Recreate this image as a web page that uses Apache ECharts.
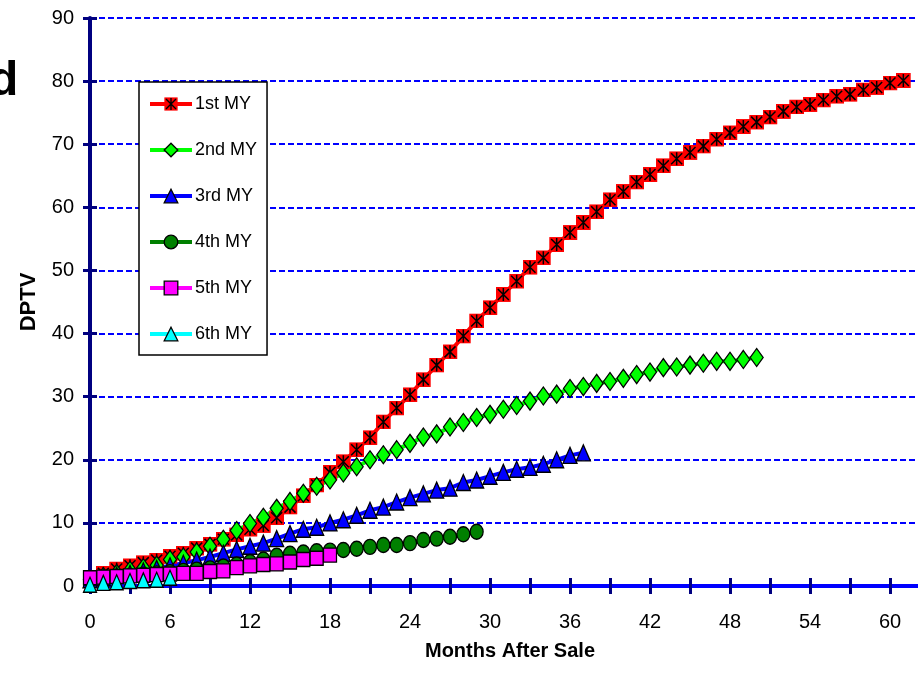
<!DOCTYPE html>
<html>
<head>
<meta charset="utf-8">
<script src="https://cdn.jsdelivr.net/npm/echarts@6/dist/echarts.min.js"></script>
<style>
html,body{margin:0;padding:0;background:#fff;}
#chart{width:918px;height:689px;}
</style>
</head>
<body>
<div id="chart"></div>
<script>
// ---- data (months after sale start at 0) ----
var seriesNames = ['1st MY', '2nd MY', '3rd MY', '4th MY', '5th MY', '6th MY'];
var xTickLabels = [0, 6, 12, 18, 24, 30, 36, 42, 48, 54, 60];
var yTickLabels = [0, 10, 20, 30, 40, 50, 60, 70, 80, 90];

var my1 = [1.3, 2.0, 2.7, 3.2, 3.7, 4.1, 4.7, 5.2, 6.0, 6.6, 7.4, 8.1, 9.0, 9.6, 10.8, 12.5, 14.3, 16.0, 18.0, 19.7,
           21.6, 23.5, 26.0, 28.2, 30.3, 32.7, 35.0, 37.1, 39.6, 42.0, 44.1, 46.2, 48.3, 50.5, 52.0, 54.1, 56.0, 57.6,
           59.3, 61.2, 62.5, 64.0, 65.2, 66.6, 67.7, 68.7, 69.7, 70.8, 71.8, 72.8, 73.5, 74.3, 75.2, 75.9, 76.3, 77.0,
           77.6, 77.9, 78.6, 79.0, 79.7, 80.1];
var my2 = [1.0, 1.5, 2.0, 2.5, 2.9, 3.3, 4.2, 4.6, 5.4, 6.3, 7.4, 8.8, 9.9, 10.9, 12.3, 13.4, 14.7, 15.8, 16.8, 17.9,
           18.9, 20.0, 20.8, 21.6, 22.6, 23.6, 24.1, 25.2, 25.9, 26.7, 27.2, 28.0, 28.6, 29.3, 30.1, 30.4, 31.3, 31.6,
           32.1, 32.4, 32.9, 33.5, 33.9, 34.6, 34.7, 35.0, 35.3, 35.6, 35.6, 35.9, 36.2];
var my3 = [1.0, 1.3, 1.7, 2.0, 2.4, 2.8, 3.2, 3.6, 4.1, 4.6, 5.2, 5.8, 6.3, 6.8, 7.5, 8.3, 9.0, 9.3, 10.0, 10.5,
           11.2, 12.0, 12.5, 13.3, 14.0, 14.6, 15.2, 15.5, 16.4, 16.8, 17.4, 18.0, 18.5, 18.8, 19.3, 20.0, 20.7, 21.1];
var my4 = [1.0, 1.2, 1.4, 1.6, 1.8, 2.0, 2.2, 2.4, 2.6, 2.8, 3.1, 3.4, 3.8, 4.2, 4.8, 5.1, 5.3, 5.5, 5.6, 5.7,
           5.9, 6.2, 6.5, 6.5, 6.8, 7.3, 7.5, 7.8, 8.2, 8.6];
var my5 = [1.3, 1.4, 1.5, 1.6, 1.7, 1.8, 1.9, 2.0, 2.0, 2.3, 2.4, 2.9, 3.2, 3.4, 3.5, 3.8, 4.2, 4.4, 4.9];
var my6 = [0.2, 0.5, 0.6, 0.8, 0.9, 1.0, 1.3];

var allValues = [my1, my2, my3, my4, my5, my6];

function pairs(arr) { return arr.map(function (v, i) { return [i, v]; }); }

var NAVY = '#000080';
var SANS = "'Liberation Sans', Arial, sans-serif";

var redSvg = "<svg xmlns='http://www.w3.org/2000/svg' width='30' height='30' viewBox='0 0 15 15'>" +
  "<rect x='0' y='0' width='15' height='15' fill='#FF0000'/>" +
  "<path d='M2 2L13 13M13 2L2 13M7.5 1V14' stroke='#000' stroke-width='1.5' fill='none'/></svg>";
var redSymbol = 'image://data:image/svg+xml;charset=utf-8,' + encodeURIComponent(redSvg);

var styles = [
  { color: '#FF0000', symbol: redSymbol, size: 15 },
  { color: '#00FF00', symbol: 'diamond', size: [13, 18] },
  { color: '#0000FF', symbol: 'triangle', size: [14, 16] },
  { color: '#008000', symbol: 'circle', size: [13, 15] },
  { color: '#FF00FF', symbol: 'rect', size: [13, 14] },
  { color: '#00FFFF', symbol: 'triangle', size: [13, 15] }
];

var series = seriesNames.map(function (name, k) {
  var s = styles[k];
  return {
    name: name,
    type: 'line',
    xAxisIndex: 0,
    yAxisIndex: 0,
    data: pairs(allValues[k]),
    symbol: s.symbol,
    symbolSize: s.size,
    showAllSymbol: true,
    animation: false,
    lineStyle: { color: s.color, width: 4 },
    itemStyle: { color: s.color, borderColor: '#000', borderWidth: k === 0 ? 0 : 1.3 },
    emphasis: { disabled: true }
  };
});

var chart = echarts.init(document.getElementById('chart'), null, { renderer: 'canvas' });
chart.setOption({
  animation: false,
  backgroundColor: '#fff',
  grid: { left: 90, top: 18, bottom: 103, right: -12, containLabel: false, outerBoundsMode: 'none' },
  graphic: [{
    type: 'text', x: -11, y: 58,
    style: { text: 'd', font: 'bold 48px ' + SANS, fill: '#000', verticalAlign: 'top' }
  }],
  legend: {
    orient: 'vertical',
    left: 139, top: 82,
    data: seriesNames,
    padding: [13, 10, 12, 9],
    itemGap: 28,
    itemWidth: 42,
    itemHeight: 17,
    backgroundColor: '#fff',
    borderColor: '#000',
    borderWidth: 1.5,
    borderRadius: 0,
    lineStyle: { width: 4 },
    itemStyle: { borderColor: '#000', borderWidth: 1.3 },
    textStyle: { fontFamily: SANS, fontSize: 18, color: '#000', padding: [0, 0, 0, -2] }
  },
  xAxis: [{
    type: 'value', min: 0, max: 63, interval: 3,
    name: 'Months After Sale', nameLocation: 'middle', nameGap: 55,
    nameTextStyle: { fontFamily: SANS, fontWeight: 'bold', fontSize: 20, color: '#000' },
    axisLine: { show: true, onZero: false, lineStyle: { color: NAVY, width: 4 } },
    axisTick: { show: true, inside: false, length: 8, lineStyle: { color: NAVY, width: 3 } },
    axisLabel: {
      margin: 26, fontFamily: SANS, fontSize: 20, color: '#000',
      formatter: function (v) { return xTickLabels.indexOf(v) >= 0 ? String(v) : ''; }
    },
    splitLine: { show: false }
  }, {
    type: 'value', min: 0, max: 63, interval: 3, position: 'bottom',
    axisLine: { show: false },
    axisTick: { show: true, inside: true, length: 8, lineStyle: { color: NAVY, width: 3 } },
    axisLabel: { show: false },
    splitLine: { show: false }
  }, {
    type: 'value', min: 0, max: 63, interval: 3, position: 'top',
    axisLine: { show: true, lineStyle: { color: '#0000FF', width: 4 } },
    axisTick: { show: false },
    axisLabel: { show: false },
    splitLine: { show: false }
  }],
  yAxis: [{
    type: 'value', min: 0, max: 90, interval: 10,
    name: 'DPTV', nameLocation: 'middle', nameGap: 50, nameRotate: 90,
    nameTextStyle: { fontFamily: SANS, fontWeight: 'bold', fontSize: 22, color: '#000' },
    axisLine: { show: true, onZero: false, lineStyle: { color: NAVY, width: 4 } },
    axisTick: { show: true, inside: false, length: 7, lineStyle: { color: NAVY, width: 3 } },
    axisLabel: {
      margin: 16, fontFamily: SANS, fontSize: 20, color: '#000',
      formatter: function (v) { return yTickLabels.indexOf(v) >= 0 ? String(v) : ''; }
    },
    splitLine: { show: true, lineStyle: { color: '#0000FF', width: 2, type: [6, 3] } }
  }, {
    type: 'value', min: 0, max: 90, interval: 10, position: 'left',
    axisLine: { show: false },
    axisTick: { show: true, inside: true, length: 7, lineStyle: { color: NAVY, width: 3 } },
    axisLabel: { show: false },
    splitLine: { show: false }
  }],
  series: series
});
</script>
</body>
</html>
